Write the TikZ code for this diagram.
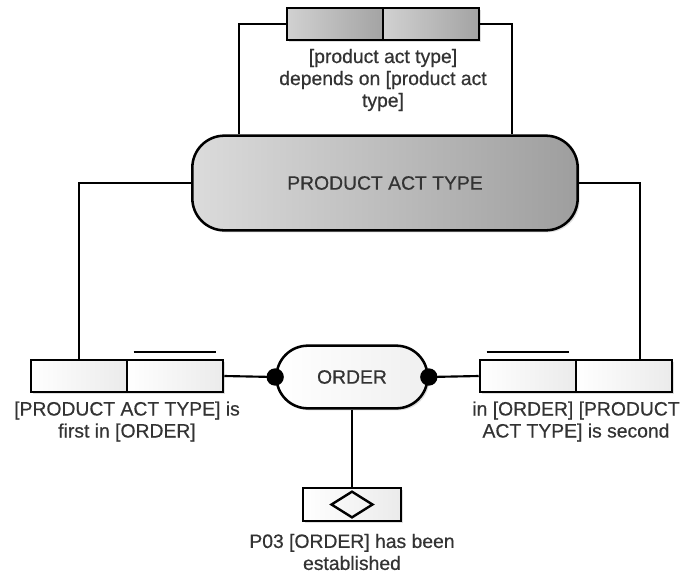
\documentclass[tikz,border=0pt]{standalone}
\usepackage{fontspec}
\setmainfont[FakeBold=0.6]{Liberation Sans}
\usepackage{tikz}
\usetikzlibrary{positioning}
\usetikzlibrary{calc,shapes.geometric,shapes.misc,shadows}

\begin{document}
\begin{tikzpicture}[x=0.75pt,y=-0.75pt,
  font=\fontsize{14.5}{16.5}\selectfont,
  every node/.style={text=black!80},
  shadowed/.style={drop shadow={opacity=0.25,shadow xshift=1.5pt,shadow yshift=-1.5pt}},
  cell/.style={draw,line width=1.9pt,minimum width=72pt,minimum height=24pt,inner sep=0pt,
    left color=white,right color=black!8,shadowed},
  dcell/.style={cell,left color=black!18,right color=black!36},
  lbl/.style={align=center,inner sep=0pt},
  link/.style={line width=1.6pt}]
\useasboundingbox (0,0) rectangle (682,576);
% fact types
\path
(335,24) node [dcell] (ft1) {}
(431,24) node [dcell] (ft2) {}
(79,376) node [cell] (fl1) {}
(175,376) node [cell] (fl2) {}
(528,376) node [cell] (fr1) {}
(624,376) node [cell] (fr2) {}
(352,504.5) node [cell,minimum width=73.5pt,minimum height=24.75pt] (fp) {};
\node [diamond,draw,line width=1.8pt,minimum width=31.5pt,minimum height=20pt,inner sep=0pt] (fpd) at (fp) {};
% object types
\node [shape=rectangle,rounded corners=24pt,draw,line width=1.9pt,minimum width=289pt,minimum height=71pt,
  left color=black!14,right color=black!38,shadowed] (pat) at (385,183) {PRODUCT ACT TYPE};
\node [rounded rectangle,draw,line width=1.9pt,minimum width=120pt,minimum height=47pt,
  left color=white,right color=black!6,shadowed] (order) at (352,377) {ORDER};
% readings
\node [lbl] (ltop) at (383,80) {[product act type]\\depends on [product act\\type]};
\node [lbl] (lleft) at (127,421.5) {[PRODUCT ACT TYPE] is\\first in [ORDER]};
\node [lbl] (lright) at (576,421.5) {in [ORDER] [PRODUCT\\ACT TYPE] is second};
\node [lbl] (lfp) at (352,552) {P03 [ORDER] has been\\established};
% roles
\draw [link] (ft1.west) -| ($(pat.north west)+(48,0)$);
\draw [link] (ft2.east) -| ($(pat.north east)+(-67,0)$);
\draw [link] (pat.west) -| (fl1.north);
\draw [link] (pat.east) -| ($(fr2.north)+(16,0)$);
\draw [link] (fl2.east) -- (order.west);
\draw [link] (order.east) -- (fr1.west);
\draw [link] (order.south) -- (fp.north);
\fill (order.west) circle (6.5pt);
\fill (order.east) circle (6.5pt);
% uniqueness
\draw [link] ([shift={(8,-7)}]fl2.north west) -- ([shift={(-8,-7)}]fl2.north east);
\draw [link] ([shift={(8,-7)}]fr1.north west) -- ([shift={(-8,-7)}]fr1.north east);

\end{tikzpicture}
\end{document}
